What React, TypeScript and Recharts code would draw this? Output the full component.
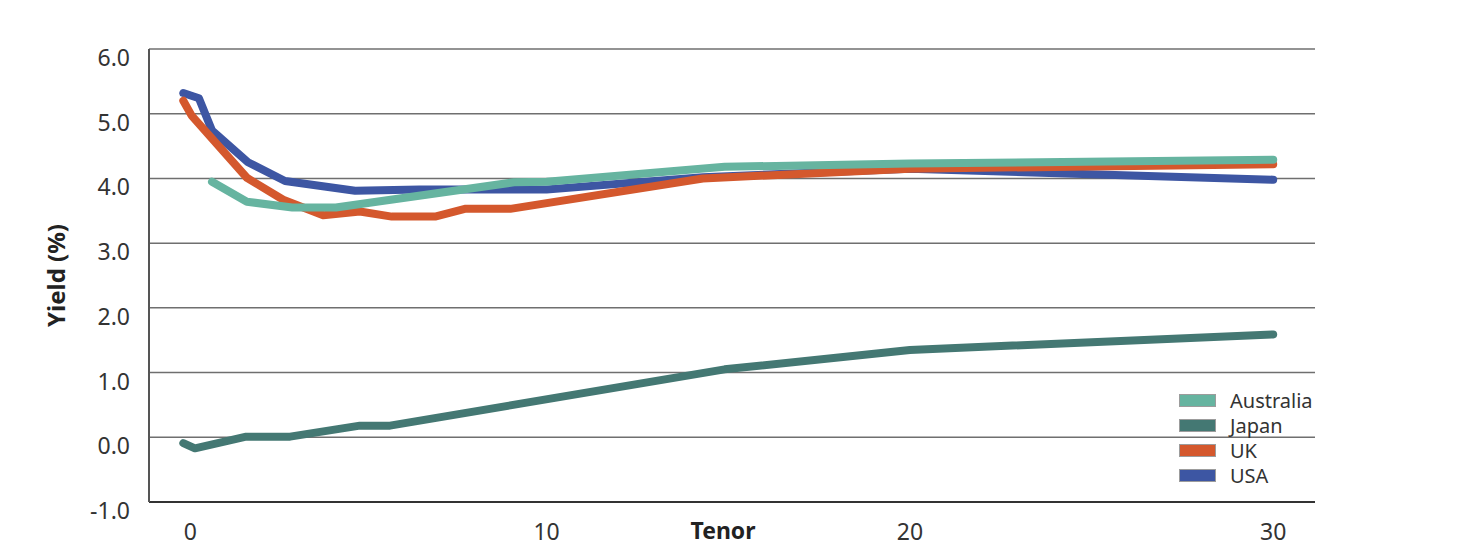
import { LineChart, Line, XAxis, YAxis, CartesianGrid, Legend } from "recharts";

// tenor in years, yield in %
const australiaTenor = [0.79, 1.75, 3.0, 4.2, 9.1, 10, 14.9, 20, 30];
const australiaYield = [3.95, 3.64, 3.55, 3.55, 3.94, 3.95, 4.18, 4.23, 4.29];

const japanTenor = [0, 0.32, 1.73, 2.94, 4.86, 5.69, 14.9, 20, 30];
const japanYield = [-0.09, -0.17, 0.01, 0.01, 0.18, 0.18, 1.05, 1.35, 1.59];

const ukTenor = [0, 0.23, 1.75, 2.75, 3.85, 4.86, 5.74, 6.93, 7.75, 9.0, 14.3, 20, 30];
const ukYield = [5.2, 4.97, 4.01, 3.67, 3.43, 3.49, 3.41, 3.41, 3.53, 3.53, 4.0, 4.15, 4.22];

const usaTenor = [0, 0.43, 0.79, 1.78, 2.8, 4.73, 6.5, 10, 14.3, 20, 30];
const usaYield = [5.32, 5.24, 4.74, 4.25, 3.96, 3.81, 3.83, 3.83, 4.02, 4.15, 3.98];

const X_TICKS = [0, 10, 20, 30];
const Y_TICKS = [-1, 0, 1, 2, 3, 4, 5, 6];
const X_DOMAIN: [number, number] = [-0.944, 31.15];
const Y_DOMAIN: [number, number] = [-1, 6];

const FONT = "'Noto Sans', sans-serif";
const TEXT = "#333333";

function toPoints(tenors: number[], yields: number[]) {
  return tenors.map((tenor, i) => ({ tenor, yield: yields[i] }));
}

const australia = { name: "Australia", color: "#66b4a0", data: toPoints(australiaTenor, australiaYield) };
const japan = { name: "Japan", color: "#447873", data: toPoints(japanTenor, japanYield) };
const uk = { name: "UK", color: "#d4582d", data: toPoints(ukTenor, ukYield) };
const usa = { name: "USA", color: "#3d56a3", data: toPoints(usaTenor, usaYield) };

// later series paint on top
const DRAW_ORDER = [japan, usa, uk, australia];
const LEGEND_ORDER = [australia, japan, uk, usa];

function YTick({ x, y, payload }: any) {
  return (
    <text x={x - 19} y={y + 8} textAnchor="end" dominantBaseline="central" fill={TEXT} fontSize={23} fontFamily={FONT}>
      {Number(payload.value).toFixed(1)}
    </text>
  );
}

function XTick({ x, y, payload }: any) {
  const nudge = payload.value === 0 ? 7 : 0;
  return (
    <text x={x + nudge} y={y + 29} textAnchor="middle" dominantBaseline="central" fill={TEXT} fontSize={23} fontFamily={FONT}>
      {payload.value}
    </text>
  );
}

function YTitle({ viewBox }: any) {
  const cx = viewBox.x - 34;
  const cy = viewBox.y + viewBox.height / 2;
  return (
    <text
      x={cx}
      y={cy}
      transform={`rotate(-90 ${cx} ${cy})`}
      textAnchor="middle"
      dominantBaseline="central"
      fill="#222"
      fontSize={24}
      fontWeight={700}
      fontFamily={FONT}
    >
      Yield (%)
    </text>
  );
}

function XTitle({ viewBox }: any) {
  return (
    <text
      x={viewBox.x + viewBox.width / 2 - 9}
      y={viewBox.y + 28}
      textAnchor="middle"
      dominantBaseline="central"
      fill="#222"
      fontSize={23}
      fontWeight={700}
      fontFamily={FONT}
    >
      Tenor
    </text>
  );
}

function CurveLegend() {
  return (
    <div style={{ fontFamily: FONT, fontSize: 20, color: TEXT }}>
      {LEGEND_ORDER.map((s) => (
        <div key={s.name} style={{ display: "flex", alignItems: "center", height: 25 }}>
          <span
            style={{
              display: "inline-block",
              boxSizing: "border-box",
              width: 37,
              height: 13,
              background: s.color,
              border: "1px solid #9c9c9c",
              marginRight: 14,
            }}
          />
          <span>{s.name}</span>
        </div>
      ))}
    </div>
  );
}

export default function App() {
  return (
    <div style={{ position: "relative", width: 1460, height: 547, fontFamily: FONT }}>
      <LineChart width={1460} height={547} margin={{ top: 41, right: 153, bottom: 8, left: 81 }}>
        <CartesianGrid horizontal vertical={false} stroke="#6f6f6f" strokeWidth={1.5} />
        <XAxis
          dataKey="tenor"
          type="number"
          domain={X_DOMAIN}
          ticks={X_TICKS}
          allowDataOverflow
          height={45}
          axisLine={{ stroke: "#333", strokeWidth: 2 }}
          tickLine={false}
          tickSize={0}
          tickMargin={0}
          tick={<XTick />}
          label={XTitle}
        />
        <YAxis
          type="number"
          domain={Y_DOMAIN}
          ticks={Y_TICKS}
          allowDataOverflow
          width={60}
          axisLine={{ stroke: "#555", strokeWidth: 2 }}
          tickLine={false}
          tickSize={0}
          tickMargin={0}
          tick={<YTick />}
          label={YTitle}
        />
        <Legend
          layout="horizontal"
          align="center"
          verticalAlign="middle"
          content={<CurveLegend />}
          wrapperStyle={{ left: 1171, top: 380, width: "auto", height: "auto" }}
        />
        {DRAW_ORDER.map((s) => (
          <Line
            key={s.name}
            name={s.name}
            data={s.data}
            dataKey="yield"
            type="linear"
            stroke={s.color}
            strokeWidth={8}
            strokeLinecap="round"
            strokeLinejoin="round"
            dot={false}
            activeDot={false}
            isAnimationActive={false}
          />
        ))}
      </LineChart>
    </div>
  );
}
